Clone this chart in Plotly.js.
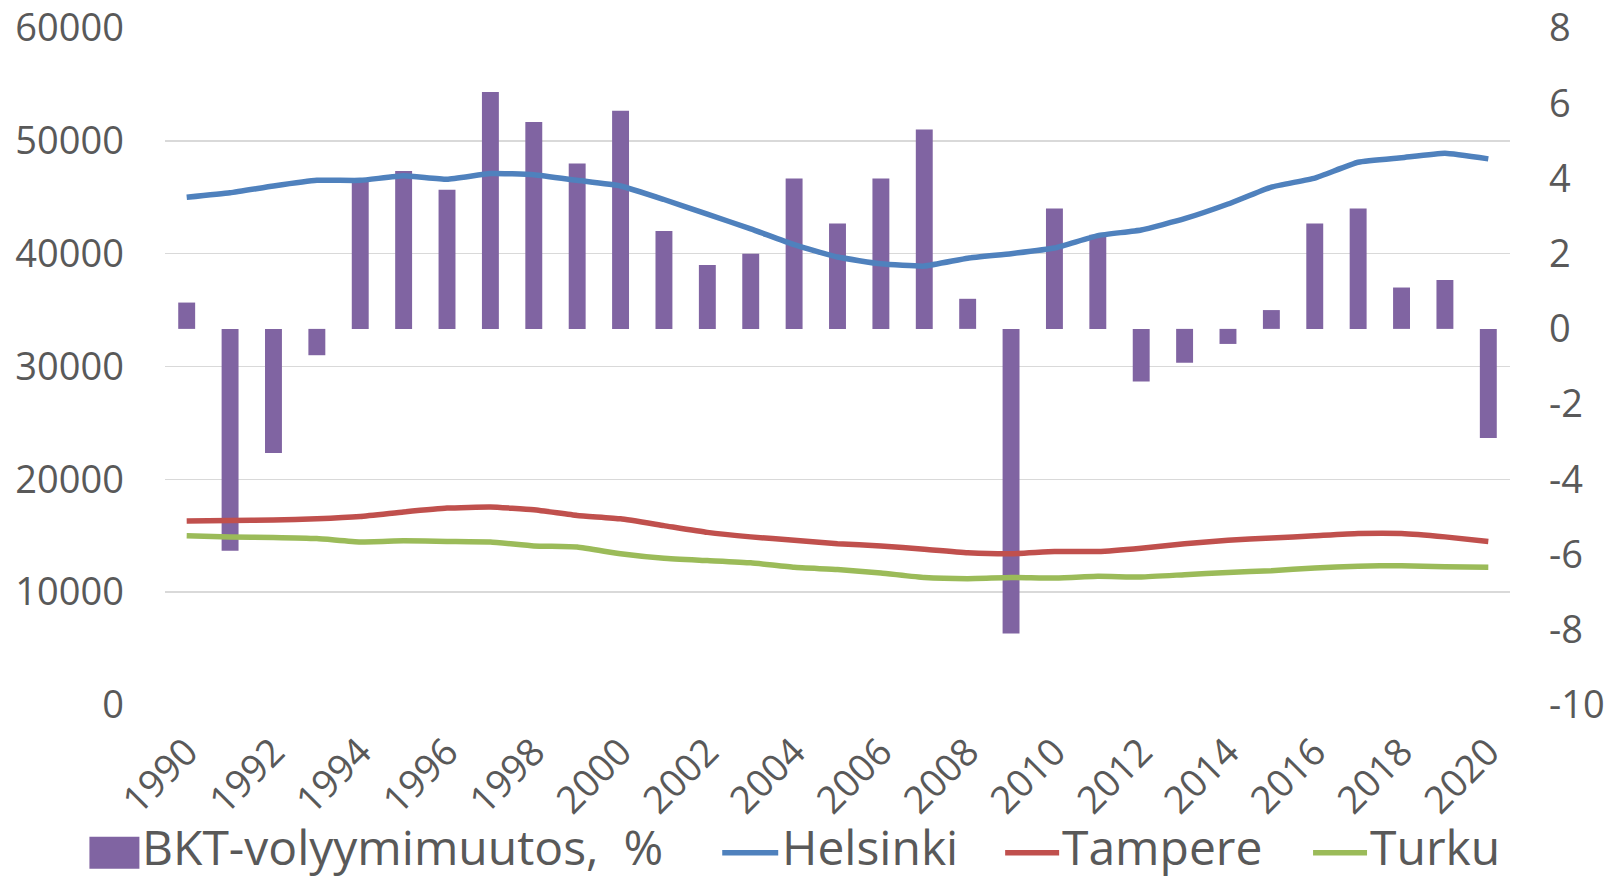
<!DOCTYPE html>
<html>
<head>
<meta charset="utf-8">
<script src="https://cdn.plot.ly/plotly-3.0.1.min.js"></script>
<style>html,body{margin:0;padding:0;background:#fff;}#chart{width:1611px;height:880px;}</style>
</head>
<body>
<div id="chart"></div>
<script>
const years = [1990,1991,1992,1993,1994,1995,1996,1997,1998,1999,2000,2001,2002,2003,2004,2005,2006,2007,2008,2009,2010,2011,2012,2013,2014,2015,2016,2017,2018,2019,2020];
const bktChange = [0.7,-5.9,-3.3,-0.7,4.0,4.2,3.7,6.3,5.5,4.4,5.8,2.6,1.7,2.0,4.0,2.8,4.0,5.3,0.8,-8.1,3.2,2.5,-1.4,-0.9,-0.4,0.5,2.8,3.2,1.1,1.3,-2.9];
const helsinki = [45000,45400,46000,46500,46500,46900,46600,47100,47000,46500,46000,44800,43500,42200,40800,39700,39100,38900,39600,40000,40500,41600,42100,43100,44400,45900,46700,48100,48500,48900,48400];
const tampere = [16300,16350,16400,16500,16700,17100,17450,17550,17300,16800,16500,15900,15300,14900,14600,14300,14100,13800,13500,13400,13600,13600,13900,14300,14600,14800,15000,15200,15200,14900,14500];
const turku = [15000,14900,14850,14750,14450,14550,14500,14450,14100,14000,13400,13000,12800,12600,12200,12000,11700,11300,11200,11300,11250,11400,11350,11550,11750,11900,12150,12300,12350,12250,12200];
const xTicks = [1990,1992,1994,1996,1998,2000,2002,2004,2006,2008,2010,2012,2014,2016,2018,2020];
const leftTicks = [0,10000,20000,30000,40000,50000,60000];
const leftTickText = ['0','10000','20000','30000','40000','50000','60000'];
const rightTicks = [-10,-8,-6,-4,-2,0,2,4,6,8];
const rightTickText = ['-10','-8','-6','-4','-2','0','2','4','6','8'];
const seriesNames = ['BKT-volyymimuutos,\u00a0\u00a0%','Helsinki','Tampere','Turku'];
const colors = ['#8064A2','#4F81BD','#C0504D','#9BBB59'];

const W = 1611, H = 880;
const L = 164.6, R = 1510, T = 28, B = 705.3;
const px = x => (x - L) / (R - L);
const py = y => (B - y) / (B - T);

const lw = 5.5;
const traces = [
  {type:'bar', x:years, y:bktChange, name:seriesNames[0], marker:{color:colors[0]}, yaxis:'y', showlegend:false},
  {type:'scatter', mode:'lines', x:years, y:helsinki, name:seriesNames[1], line:{color:colors[1], width:lw, shape:'spline', smoothing:0.4}, yaxis:'y2', showlegend:false},
  {type:'scatter', mode:'lines', x:years, y:tampere, name:seriesNames[2], line:{color:colors[2], width:lw, shape:'spline', smoothing:0.4}, yaxis:'y2', showlegend:false},
  {type:'scatter', mode:'lines', x:years, y:turku, name:seriesNames[3], line:{color:colors[3], width:lw, shape:'spline', smoothing:0.4}, yaxis:'y2', showlegend:false}
];

const tickFont = {family:'Open Sans, Noto Sans, sans-serif', size:38, color:'#595959'};
const legFont = {family:'Open Sans, Noto Sans, sans-serif', size:48, color:'#595959'};

// custom legend
const legY = 853;
const shapes = [
  {type:'rect', xref:'paper', yref:'paper', x0:px(89), x1:px(139), y0:py(869), y1:py(837), fillcolor:colors[0], line:{width:0}},
  {type:'line', xref:'paper', yref:'paper', x0:px(722), x1:px(778), y0:py(legY), y1:py(legY), line:{color:colors[1], width:lw}},
  {type:'line', xref:'paper', yref:'paper', x0:px(1005), x1:px(1059), y0:py(legY), y1:py(legY), line:{color:colors[2], width:lw}},
  {type:'line', xref:'paper', yref:'paper', x0:px(1313), x1:px(1367), y0:py(legY), y1:py(legY), line:{color:colors[3], width:lw}}
];
const legTextX = [140, 780, 1060, 1368];
const annotations = seriesNames.map((n,i) => ({
  xref:'paper', yref:'paper', x:px(legTextX[i]), y:py(847), xanchor:'left', yanchor:'middle',
  text:n, showarrow:false, font:legFont
}));

const layout = {
  width:W, height:H,
  margin:{l:L, r:W-R, t:T, b:H-B, pad:0},
  paper_bgcolor:'#ffffff', plot_bgcolor:'#ffffff',
  bargap:0.61,
  showlegend:false,
  xaxis:{range:[1989.5,2020.5], tickmode:'array', tickvals:xTicks, ticktext:xTicks.map(String), tickangle:-45,
    tickfont:tickFont, showgrid:false, zeroline:false, showline:false, ticks:'', ticklabelstandoff:16},
  yaxis:{side:'right', range:[-10,8], tickmode:'array', tickvals:rightTicks, ticktext:rightTickText, showgrid:false, zeroline:false,
    tickfont:tickFont, ticks:'', ticklabelstandoff:38},
  yaxis2:{overlaying:'y', side:'left', range:[0,60000], tickmode:'array', tickvals:leftTicks, ticktext:leftTickText, showgrid:true,
    gridcolor:'#D9D9D9', gridwidth:1.5, zeroline:false, tickfont:tickFont, ticks:'', ticklabelstandoff:40},
  shapes:shapes,
  annotations:annotations
};

Plotly.newPlot('chart', traces, layout, {staticPlot:true, displayModeBar:false});
</script>
</body>
</html>
